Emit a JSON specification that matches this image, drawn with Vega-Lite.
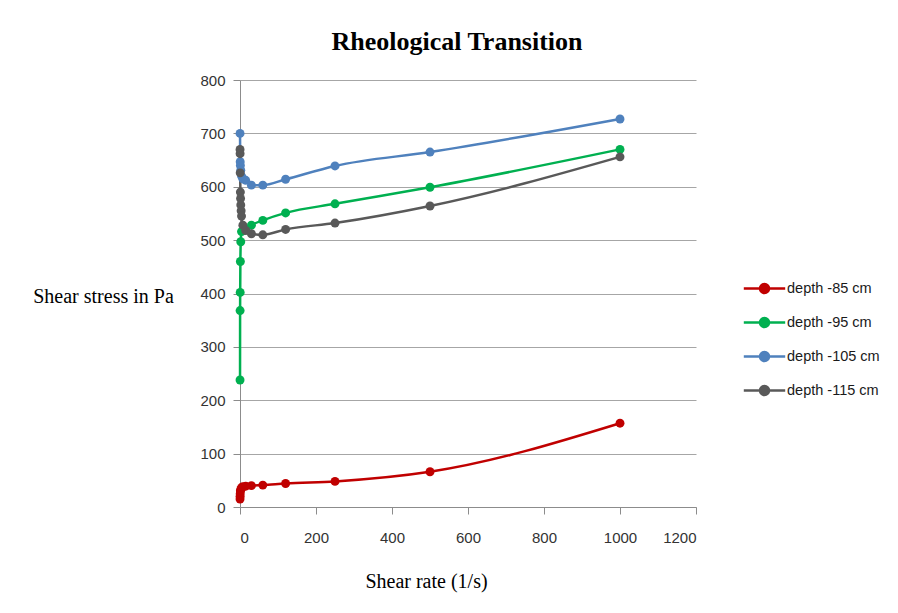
{
  "$schema": "https://vega.github.io/schema/vega-lite/v6.json",
  "width": 456,
  "height": 427,
  "autosize": {"type": "none"},
  "padding": {"left": 240, "top": 80, "right": 202, "bottom": 106},
  "background": "white",
  "title": {
    "text": "Rheological Transition",
    "font": "Liberation Serif",
    "fontSize": 26,
    "fontWeight": "bold",
    "color": "#000000",
    "baseline": "alphabetic",
    "offset": -3,
    "dx": -11
  },
  "config": {
    "view": {"stroke": null},
    "axis": {
      "labelFont": "Liberation Sans",
      "labelFontSize": 15,
      "labelColor": "#333333",
      "domainColor": "#8c8c8c",
      "tickColor": "#8c8c8c",
      "gridColor": "#a6a6a6",
      "tickSize": 7,
      "titleFont": "Liberation Serif",
      "titleFontSize": 20,
      "titleFontWeight": "normal",
      "titleColor": "#000000"
    }
  },
  "data": {
    "values": [
      {"series": "depth -85 cm", "rate": 0.1, "stress": 15},
      {"series": "depth -85 cm", "rate": 0.25, "stress": 20},
      {"series": "depth -85 cm", "rate": 0.5, "stress": 25},
      {"series": "depth -85 cm", "rate": 1, "stress": 30},
      {"series": "depth -85 cm", "rate": 2, "stress": 33},
      {"series": "depth -85 cm", "rate": 4, "stress": 36},
      {"series": "depth -85 cm", "rate": 7.5, "stress": 38},
      {"series": "depth -85 cm", "rate": 15, "stress": 39},
      {"series": "depth -85 cm", "rate": 30, "stress": 40},
      {"series": "depth -85 cm", "rate": 60, "stress": 41},
      {"series": "depth -85 cm", "rate": 120, "stress": 44},
      {"series": "depth -85 cm", "rate": 250, "stress": 48},
      {"series": "depth -85 cm", "rate": 500, "stress": 66},
      {"series": "depth -85 cm", "rate": 1000, "stress": 157},
      {"series": "depth -95 cm", "rate": 0.1, "stress": 238},
      {"series": "depth -95 cm", "rate": 0.25, "stress": 368},
      {"series": "depth -95 cm", "rate": 0.5, "stress": 402},
      {"series": "depth -95 cm", "rate": 1, "stress": 460},
      {"series": "depth -95 cm", "rate": 2, "stress": 497},
      {"series": "depth -95 cm", "rate": 4, "stress": 516},
      {"series": "depth -95 cm", "rate": 15, "stress": 521},
      {"series": "depth -95 cm", "rate": 30, "stress": 528},
      {"series": "depth -95 cm", "rate": 60, "stress": 537},
      {"series": "depth -95 cm", "rate": 120, "stress": 551},
      {"series": "depth -95 cm", "rate": 250, "stress": 568},
      {"series": "depth -95 cm", "rate": 500, "stress": 599},
      {"series": "depth -95 cm", "rate": 1000, "stress": 670},
      {"series": "depth -105 cm", "rate": 0.1, "stress": 700},
      {"series": "depth -105 cm", "rate": 0.5, "stress": 647},
      {"series": "depth -105 cm", "rate": 1, "stress": 640},
      {"series": "depth -105 cm", "rate": 2, "stress": 631},
      {"series": "depth -105 cm", "rate": 4, "stress": 620},
      {"series": "depth -105 cm", "rate": 7.5, "stress": 615},
      {"series": "depth -105 cm", "rate": 15, "stress": 612},
      {"series": "depth -105 cm", "rate": 30, "stress": 603},
      {"series": "depth -105 cm", "rate": 60, "stress": 603},
      {"series": "depth -105 cm", "rate": 120, "stress": 614},
      {"series": "depth -105 cm", "rate": 250, "stress": 639},
      {"series": "depth -105 cm", "rate": 500, "stress": 665},
      {"series": "depth -105 cm", "rate": 1000, "stress": 727},
      {"series": "depth -115 cm", "rate": 0.1, "stress": 670},
      {"series": "depth -115 cm", "rate": 0.25, "stress": 662},
      {"series": "depth -115 cm", "rate": 0.5, "stress": 626},
      {"series": "depth -115 cm", "rate": 1, "stress": 590},
      {"series": "depth -115 cm", "rate": 1.5, "stress": 578},
      {"series": "depth -115 cm", "rate": 2, "stress": 566},
      {"series": "depth -115 cm", "rate": 3, "stress": 555},
      {"series": "depth -115 cm", "rate": 4, "stress": 545},
      {"series": "depth -115 cm", "rate": 7.5, "stress": 528},
      {"series": "depth -115 cm", "rate": 15, "stress": 518},
      {"series": "depth -115 cm", "rate": 30, "stress": 512},
      {"series": "depth -115 cm", "rate": 60, "stress": 510},
      {"series": "depth -115 cm", "rate": 120, "stress": 520},
      {"series": "depth -115 cm", "rate": 250, "stress": 532},
      {"series": "depth -115 cm", "rate": 500, "stress": 564},
      {"series": "depth -115 cm", "rate": 1000, "stress": 656}
    ]
  },
  "encoding": {
    "x": {
      "field": "rate",
      "type": "quantitative",
      "scale": {"domain": [0, 1200], "nice": false},
      "axis": {
        "title": "Shear rate (1/s)",
        "values": [0, 200, 400, 600, 800, 1000, 1200],
        "format": "d",
        "grid": false,
        "labelPadding": 16,
        "titleX": 186,
        "titleY": 80,
        "titleBaseline": "alphabetic"
      }
    },
    "y": {
      "field": "stress",
      "type": "quantitative",
      "scale": {"domain": [0, 800], "nice": false},
      "axis": {
        "title": "Shear stress in Pa",
        "values": [0, 100, 200, 300, 400, 500, 600, 700, 800],
        "format": "d",
        "grid": true,
        "labelPadding": 8,
        "titleAngle": 0,
        "titleAlign": "center",
        "titleBaseline": "alphabetic",
        "titleX": -137,
        "titleY": 222
      }
    },
    "color": {
      "field": "series",
      "type": "nominal",
      "scale": {
        "domain": ["depth -85 cm", "depth -95 cm", "depth -105 cm", "depth -115 cm"],
        "range": ["#c00000", "#00b050", "#4f81bd", "#595959"]
      },
      "legend": {
        "title": null,
        "orient": "none",
        "legendX": 514,
        "legendY": 198,
        "padding": 0,
        "rowPadding": 14,
        "labelFont": "Liberation Sans",
        "labelFontSize": 14.5,
        "labelColor": "#1a1a1a",
        "labelOffset": 12,
        "symbolType": "M-2.3,0L2.3,0M-0.5,0A0.5,0.5 0 1,0 0.5,0A0.5,0.5 0 1,0 -0.5,0",
        "symbolSize": 324,
        "symbolStrokeWidth": 2.5,
        "symbolOpacity": 1,
        "encode": {
          "symbols": {
            "update": {
              "stroke": {"scale": "color", "field": "value"},
              "fill": {"scale": "color", "field": "value"},
              "opacity": {"value": 1}
            }
          }
        }
      }
    }
  },
  "layer": [
    {"mark": {"type": "line", "strokeWidth": 2.5, "interpolate": "monotone"}},
    {"mark": {"type": "point", "filled": true, "size": 80, "opacity": 1}}
  ]
}
